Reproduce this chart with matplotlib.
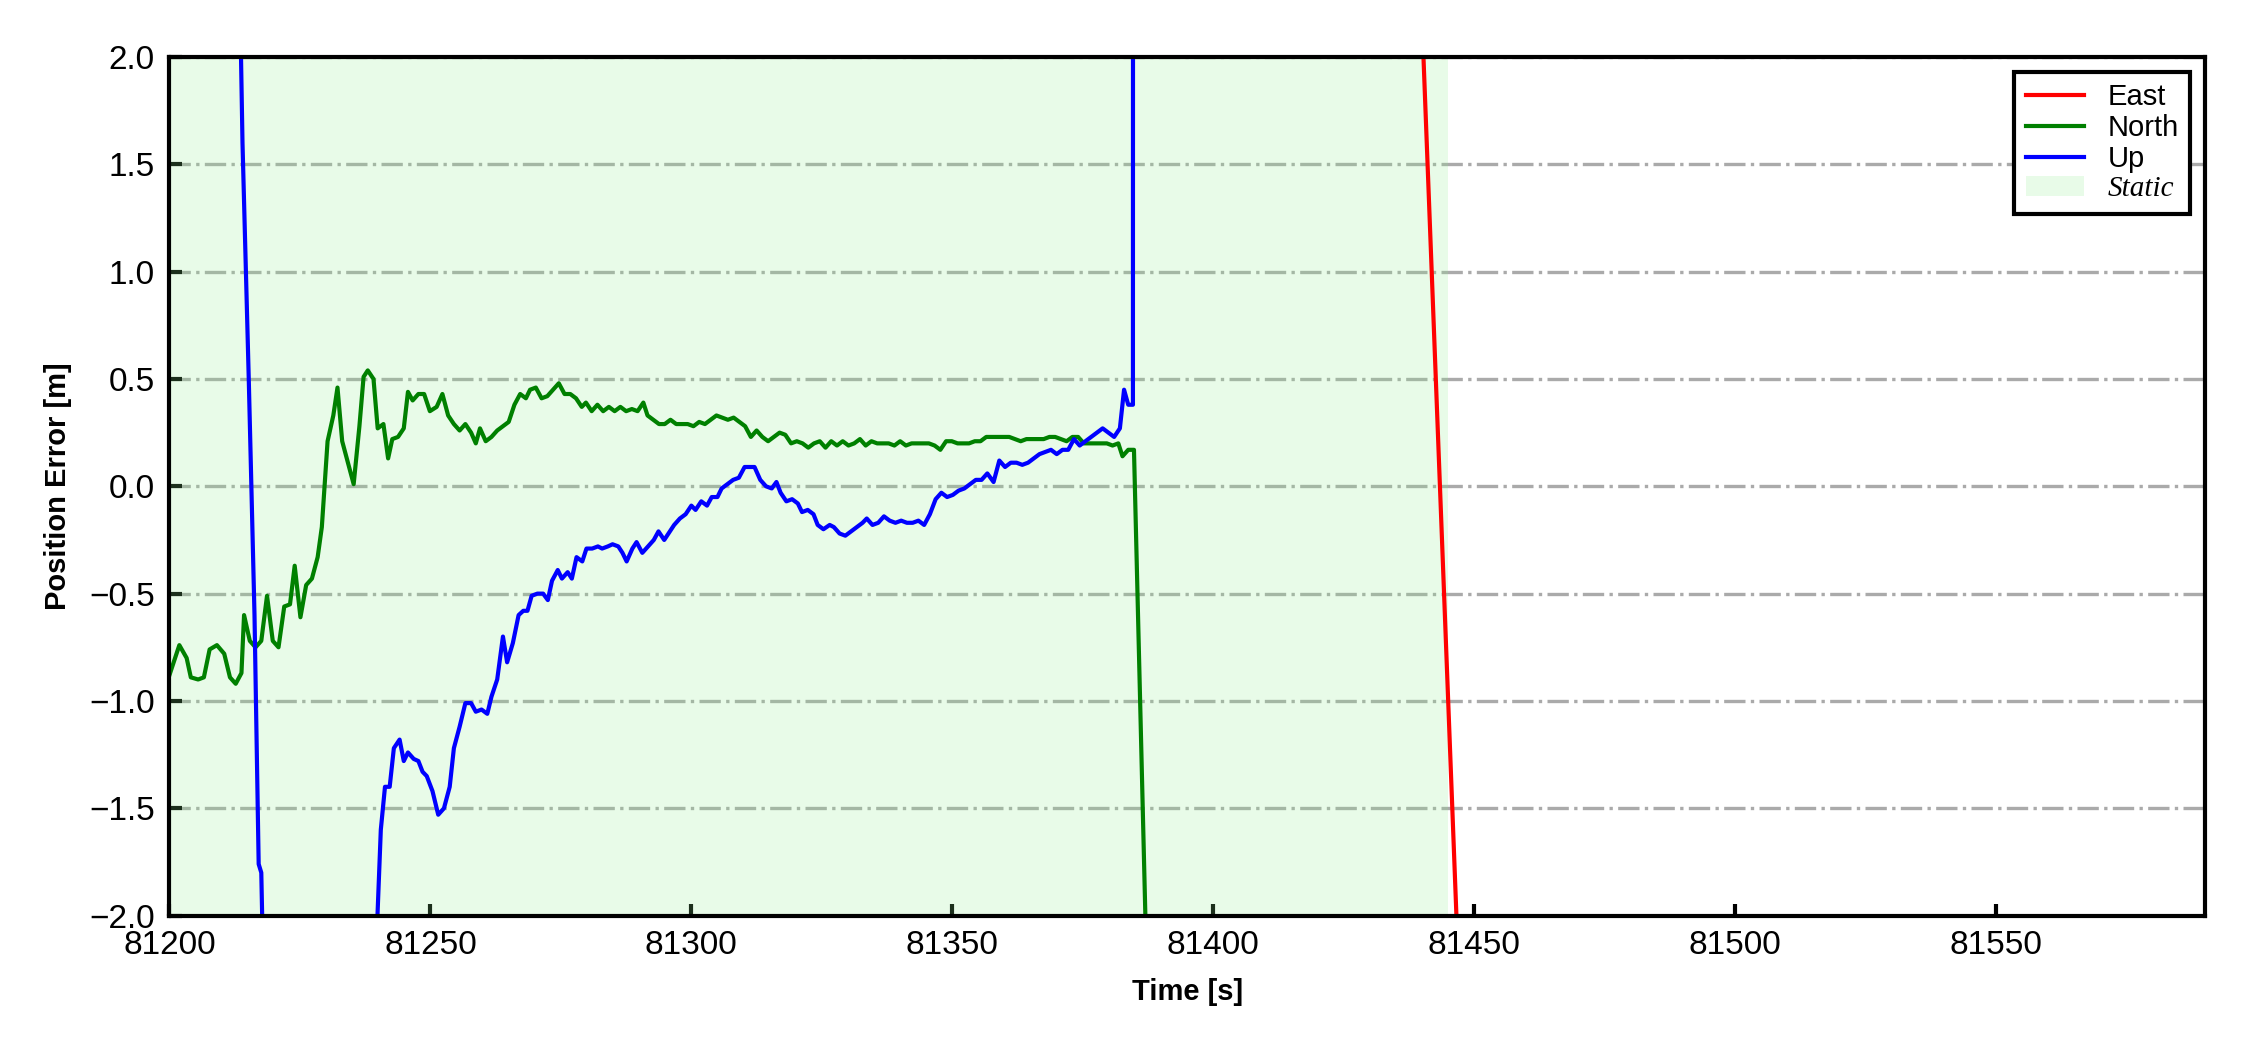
import matplotlib
matplotlib.use('Agg')
import matplotlib.pyplot as plt

plt.rcParams['font.family'] = ['Liberation Sans', 'DejaVu Sans']

# East error, only its crossing is inside the y window
east_t = [81200, 81300, 81430, 81460, 81590]
east_v = [35.0, 20.0, 8.5, -10.5, -40.0]

# North error
north_t = [81200.0, 81201.9, 81203.3, 81204.1, 81205.5, 81206.6, 81207.7, 81209.1, 81210.5, 81211.6,
           81212.7, 81213.8, 81214.3, 81215.4, 81216.5, 81217.6, 81218.7, 81219.8, 81220.9, 81222.0,
           81223.1, 81224.0, 81225.1, 81226.2, 81227.3, 81228.4, 81229.2, 81230.3, 81231.4, 81232.2,
           81233.1, 81234.2, 81235.3, 81236.4, 81237.2, 81238.0, 81239.1, 81239.9, 81241.0, 81241.9,
           81242.7, 81243.8, 81244.9, 81245.7, 81246.6, 81247.7, 81248.8, 81249.9, 81251.2, 81252.3,
           81253.4, 81254.5, 81255.6, 81256.7, 81257.8, 81258.7, 81259.5, 81260.6, 81261.7, 81262.8,
           81263.9, 81265.0, 81266.1, 81267.2, 81268.3, 81269.1, 81270.2, 81271.3, 81272.4, 81273.5,
           81274.6, 81275.7, 81276.8, 81277.9, 81279.0, 81279.8, 81280.9, 81282.0, 81283.1, 81284.2,
           81285.3, 81286.4, 81287.5, 81288.6, 81289.7, 81290.8, 81291.6, 81292.7, 81293.8, 81294.9,
           81296.0, 81297.1, 81298.2, 81299.3, 81300.4, 81301.5, 81302.6, 81303.7, 81304.8, 81305.9,
           81307.0, 81308.1, 81309.2, 81310.3, 81311.4, 81312.5, 81313.6, 81314.7, 81315.8, 81316.9,
           81318.0, 81319.1, 81320.2, 81321.3, 81322.4, 81323.5, 81324.6, 81325.7, 81326.8, 81327.9,
           81329.0, 81330.1, 81331.2, 81332.3, 81333.4, 81334.5, 81335.6, 81336.7, 81337.8, 81338.9,
           81340.0, 81341.1, 81342.2, 81343.3, 81344.4, 81345.5, 81346.6, 81347.7, 81348.8, 81349.9,
           81351.0, 81352.1, 81353.2, 81354.3, 81355.4, 81356.5, 81357.6, 81358.7, 81359.8, 81360.9,
           81362.0, 81363.1, 81364.2, 81365.3, 81366.4, 81367.5, 81368.6, 81369.7, 81370.8, 81371.9,
           81373.0, 81374.1, 81375.2, 81376.3, 81377.4, 81378.5, 81379.6, 81380.7, 81381.8, 81382.6,
           81383.7, 81384.8, 81390.0]
north_v = [-0.88, -0.74, -0.80, -0.89, -0.90, -0.89, -0.76, -0.74, -0.78, -0.89,
           -0.92, -0.87, -0.60, -0.72, -0.75, -0.72, -0.51, -0.72, -0.75, -0.56,
           -0.55, -0.37, -0.61, -0.46, -0.43, -0.33, -0.19, 0.21, 0.33, 0.46,
           0.21, 0.11, 0.01, 0.28, 0.51, 0.54, 0.50, 0.27, 0.29, 0.13,
           0.22, 0.23, 0.27, 0.44, 0.40, 0.43, 0.43, 0.35, 0.37, 0.43,
           0.33, 0.29, 0.26, 0.29, 0.25, 0.20, 0.27, 0.21, 0.23, 0.26,
           0.28, 0.30, 0.38, 0.43, 0.41, 0.45, 0.46, 0.41, 0.42, 0.45,
           0.48, 0.43, 0.43, 0.41, 0.37, 0.39, 0.35, 0.38, 0.35, 0.37,
           0.35, 0.37, 0.35, 0.36, 0.35, 0.39, 0.33, 0.31, 0.29, 0.29,
           0.31, 0.29, 0.29, 0.29, 0.28, 0.30, 0.29, 0.31, 0.33, 0.32,
           0.31, 0.32, 0.30, 0.28, 0.23, 0.26, 0.23, 0.21, 0.23, 0.25,
           0.24, 0.20, 0.21, 0.20, 0.18, 0.20, 0.21, 0.18, 0.21, 0.19,
           0.21, 0.19, 0.20, 0.22, 0.19, 0.21, 0.20, 0.20, 0.20, 0.19,
           0.21, 0.19, 0.20, 0.20, 0.20, 0.20, 0.19, 0.17, 0.21, 0.21,
           0.20, 0.20, 0.20, 0.21, 0.21, 0.23, 0.23, 0.23, 0.23, 0.23,
           0.22, 0.21, 0.22, 0.22, 0.22, 0.22, 0.23, 0.23, 0.22, 0.21,
           0.23, 0.23, 0.20, 0.20, 0.20, 0.20, 0.20, 0.19, 0.20, 0.14,
           0.17, 0.17, -5.0]

# Up error
up_t = [81200.0, 81205.0, 81210.0, 81213.0, 81214.0, 81215.2, 81216.3, 81217.1, 81217.6, 81218.6,
        81220.0, 81225.0, 81230.0, 81235.0, 81238.9,
        81240.5, 81241.3, 81242.2, 81243.0, 81244.1, 81244.9, 81245.7, 81246.8, 81247.7, 81248.5,
        81249.3, 81250.4, 81251.5, 81252.6, 81253.7, 81254.5, 81255.6, 81256.7, 81257.8, 81258.7,
        81259.8, 81260.9, 81261.7, 81262.8, 81263.9, 81264.7, 81265.8, 81266.9, 81267.8, 81268.6,
        81269.4, 81270.5, 81271.6, 81272.5, 81273.3, 81274.4, 81275.2, 81276.3, 81277.1, 81278.0,
        81279.1, 81279.9, 81281.0, 81282.1, 81282.9, 81284.0, 81284.9, 81286.0, 81286.8, 81287.6,
        81288.7, 81289.5, 81290.6, 81291.7, 81292.8, 81293.7, 81294.8, 81295.9, 81296.7, 81297.8,
        81298.9, 81300.0, 81300.8, 81301.9, 81303.0, 81303.9, 81305.0, 81305.8, 81306.9, 81308.0,
        81309.1, 81310.2, 81311.0, 81312.1, 81313.2, 81314.3, 81315.4, 81316.3, 81317.1, 81318.2,
        81319.3, 81320.4, 81321.2, 81322.3, 81323.4, 81324.2, 81325.3, 81326.5, 81327.3, 81328.4,
        81329.5, 81330.6, 81331.7, 81332.8, 81333.6, 81334.7, 81335.8, 81336.9, 81338.0, 81339.1,
        81340.2, 81341.3, 81342.4, 81343.5, 81344.6, 81345.7, 81346.8, 81347.9, 81349.0, 81350.1,
        81351.2, 81352.3, 81353.4, 81354.5, 81355.6, 81356.7, 81357.9, 81359.0, 81360.1, 81361.2,
        81362.3, 81363.4, 81364.5, 81365.6, 81366.7, 81367.8, 81368.9, 81370.0, 81371.1, 81372.2,
        81373.3, 81374.4, 81375.5, 81376.6, 81377.7, 81378.8, 81379.9, 81381.0, 81382.1, 81382.9,
        81383.7, 81384.6, 81385.2]
up_v = [6.0, 5.5, 4.8, 3.0, 1.6, 0.5, -0.6, -1.76, -1.80, -3.0,
        -4.2, -5.0, -4.4, -3.6, -2.6,
        -1.60, -1.40, -1.40, -1.22, -1.18, -1.28, -1.24, -1.27, -1.28, -1.33,
        -1.35, -1.42, -1.53, -1.50, -1.40, -1.22, -1.12, -1.01, -1.01, -1.05,
        -1.04, -1.06, -0.98, -0.90, -0.70, -0.82, -0.73, -0.60, -0.58, -0.58,
        -0.51, -0.50, -0.50, -0.53, -0.44, -0.39, -0.43, -0.40, -0.43, -0.33,
        -0.35, -0.29, -0.29, -0.28, -0.29, -0.28, -0.27, -0.28, -0.31, -0.35,
        -0.29, -0.26, -0.31, -0.28, -0.25, -0.21, -0.25, -0.21, -0.18, -0.15,
        -0.13, -0.09, -0.11, -0.07, -0.09, -0.05, -0.05, -0.01, 0.01, 0.03,
        0.04, 0.09, 0.09, 0.09, 0.03, 0.00, -0.01, 0.02, -0.03, -0.07,
        -0.06, -0.08, -0.12, -0.11, -0.13, -0.18, -0.20, -0.18, -0.19, -0.22,
        -0.23, -0.21, -0.19, -0.17, -0.15, -0.18, -0.17, -0.14, -0.16, -0.17,
        -0.16, -0.17, -0.17, -0.16, -0.18, -0.13, -0.06, -0.03, -0.05, -0.04,
        -0.02, -0.01, 0.01, 0.03, 0.03, 0.06, 0.02, 0.12, 0.09, 0.11,
        0.11, 0.10, 0.11, 0.13, 0.15, 0.16, 0.17, 0.15, 0.17, 0.17,
        0.22, 0.19, 0.21, 0.23, 0.25, 0.27, 0.25, 0.23, 0.27, 0.45,
        0.38, 0.38, 80.0]

# static interval
static_start = 81200
static_end = 81445

fig, ax = plt.subplots(figsize=(7.5, 3.5), dpi=300)
fig.subplots_adjust(left=0.0753, right=0.980, top=0.9457, bottom=0.128)

ax.axvspan(static_start, static_end, color='#90ee90', alpha=0.2, lw=0, label='Static')
ax.plot(east_t, east_v, color='red', lw=1.0, label='East')
ax.plot(north_t, north_v, color='green', lw=1.0, label='North')
ax.plot(up_t, up_v, color='blue', lw=1.0, label='Up')

ax.set_xlim(81200, 81590)
ax.set_ylim(-2.0, 2.0)
ax.set_xticks([81200, 81250, 81300, 81350, 81400, 81450, 81500, 81550])
ax.set_yticks([-2.0, -1.5, -1.0, -0.5, 0.0, 0.5, 1.0, 1.5, 2.0])
ax.yaxis.grid(True, linestyle='-.', color='#aaaaaa', lw=0.8)
ax.set_axisbelow(True)
ax.tick_params(direction='in', length=3, width=1, labelsize=8, top=False, right=False)
for s in ax.spines.values():
    s.set_linewidth(1.0)

ax.set_xlabel('Time [s]', fontsize=7, fontweight='bold')
ax.set_ylabel('Position Error [m]', fontsize=7, fontweight='bold')

handles, labels = ax.get_legend_handles_labels()
order = [1, 2, 3, 0]
leg = ax.legend([handles[i] for i in order], [labels[i] for i in order],
                loc='upper right', fontsize=7, labelspacing=0.1, fancybox=False,
                framealpha=1, edgecolor='black', handlelength=2.0)
leg.get_frame().set_linewidth(1.0)
leg.get_texts()[3].set_fontfamily('Liberation Serif')
leg.get_texts()[3].set_fontstyle('italic')

plt.savefig('out.png')
